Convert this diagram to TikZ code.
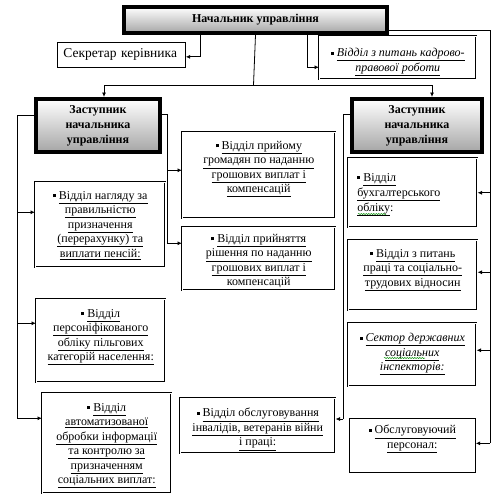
\documentclass[tikz,border=0pt]{standalone}
\usepackage{fontspec}
\setmainfont{Liberation Serif}
\usetikzlibrary{arrows.meta,decorations.pathmorphing}

\tikzset{
	unit/.style={draw, double, double distance=1.3pt, line width=0.5pt, inner sep=0pt, anchor=north west},
	plain/.style={draw, line width=0.7pt, inner sep=0pt, anchor=north west},
	head/.style={draw, line width=4pt, top color=white, bottom color=black!35, inner sep=0pt,
		anchor=north west, font=\fontsize{12}{15}\selectfont\bfseries},
	link/.style={line width=0.8pt},
	arr/.style={link, -{Latex[length=4.5pt,width=4pt]}},
	squiggle/.style={green!55!black, line width=0.5pt, decorate,
		decoration={snake, segment length=2.5pt, amplitude=0.6pt}},
}

\newcommand{\bul}{\raisebox{2pt}{\rule{3pt}{3pt}}\ }
\newcommand{\ul}[1]{\underline{#1}}
\newcommand{\cell}[4]{\parbox[c][#2][t]{#1}{\centering\vspace*{#3}#4}}

\begin{document}
\begin{tikzpicture}[x=1pt, y=-1pt, font=\fontsize{12}{14.5}\selectfont]

	\useasboundingbox (0,0) rectangle (503,501);

	% head of the office and the two deputies
	\node (chief) [head, minimum width=263pt, minimum height=26pt] at (122,5) {Начальник управління};
	\node (ldep) [head] at (34,97) {\cell{124pt}{53pt}{7pt}{Заступник\\начальника\\управління}};
	\node (rdep) [head] at (350,97) {\cell{130pt}{53pt}{7pt}{Заступник\\начальника\\управління}};

	\node (secr) [plain, text width=116pt, minimum height=25pt, inner xsep=6pt, align=left,
		font=\fontsize{13.5}{15}\selectfont] at (57,42) {Секретар керівника};
	\node (kadr) [unit] at (319,36) {\cell{157pt}{43pt}{12pt}{\itshape\bul\ul{Відділ з питань кадрово-}\\\ul{правової роботи}}};

	% left side
	\node (nahl) [unit] at (35,182) {\cell{130pt}{85pt}{9pt}{\bul\ul{Відділ нагляду за}\\\ul{правильністю}\\\ul{призначення}\\\ul{(перерахунку) та}\\\ul{виплати пенсій:}}};
	\node (pers) [unit] at (36,299) {\cell{129pt}{83pt}{10pt}{\bul\ul{Відділ}\\\ul{персоніфікованого}\\\ul{обліку пільгових}\\\ul{категорій населення:}}};
	\node (avto) [unit] at (42,393) {\cell{129pt}{100pt}{10pt}{\bul\ul{Відділ}\\\ul{автоматизованої}\\\ul{обробки інформації}\\\ul{та контролю за}\\\ul{призначенням}\\\ul{соціальних виплат:}}};

	% middle
	\node (prijom) [unit] at (182,132) {\cell{153pt}{86pt}{9pt}{\bul\ul{Відділ прийому}\\\ul{громадян по наданню}\\\ul{грошових виплат і}\\\ul{компенсацій}}};
	\node (prijn) [unit] at (182,227) {\cell{153pt}{63pt}{7pt}{\bul\ul{Відділ прийняття}\\\ul{рішення по наданню}\\\ul{грошових виплат і}\\\ul{компенсацій}}};
	\node (obsluh) [unit] at (180,398) {\cell{155pt}{55pt}{10pt}{\bul\ul{Відділ обслуговування}\\\ul{інвалідів, ветеранів війни}\\\ul{і праці:}}};

	% right side
	\node (buh) [unit] at (348,158) {\cell{129pt}{69pt}{15pt}{\raggedright\leftskip=9pt\baselineskip=15pt
		\bul\ul{Відділ}\\\ul{бухгалтерського}\\\ul{обліку}:}};
	\node (praci) [unit] at (348,240) {\cell{129pt}{70pt}{9pt}{\bul\ul{Відділ з питань}\\\ul{праці та соціально-}\\\ul{трудових відносин}}};
	\node (sektor) [unit] at (348,323) {\cell{128pt}{63pt}{10pt}{\itshape\bul\ul{Сектор державних}\\\ul{соціальних}\\\ul{інспекторів:}}};
	\node (obsl) [plain] at (349,418) {\cell{126pt}{54pt}{7pt}{\bul\ul{Обслуговуючий}\\\ul{персонал:}}};

	% spell-check marks
	\draw[squiggle] (358,214) -- (386,214);
	\draw[squiggle] (384,358) -- (425,358);

	% connectors from the head
	\coordinate (bus) at (253.5,85);
	\draw[link] (chief.south) -- (bus);
	\draw[arr] (bus) -| ([xshift=6pt]ldep.north);
	\draw[arr] (bus) -| ([xshift=15pt]rdep.north);
	\draw[arr] ([xshift=-55.5pt]chief.south) |- ([yshift=-2pt]secr.east);
	\draw[arr] ([xshift=51.5pt]chief.south) |- ([yshift=-9.5pt]kadr.west);

	\coordinate (rbus) at (490,443);
	\draw[link] ([yshift=-10pt]chief.east) -| (rbus);
	\foreach \n/\s in {buh/0, praci/3, sektor/4.5, obsl/2} {
		\coordinate (in) at ([yshift=\s pt]\n.east);
		\draw[arr] (rbus |- in) -- (in);
	}

	% connectors from the left deputy
	\coordinate (lbus) at (17,418);
	\draw[link] ([yshift=10.5pt]ldep.west) -| (lbus);
	\foreach \n/\s in {nahl/12.5, pers/17.5, avto/25} {
		\coordinate (in) at ([yshift=\s pt]\n.west);
		\draw[arr] (lbus |- in) -- (in);
	}

	\coordinate (mbus) at (167,243);
	\draw[link] ([yshift=11.5pt]ldep.east) -| (mbus);
	\foreach \n/\s in {prijom/5, prijn/15.5} {
		\coordinate (in) at ([yshift=\s pt]\n.west);
		\draw[arr] (mbus |- in) -- (in);
	}

	% connector from the right deputy
	\coordinate (obus) at (343,419);
	\draw[link] ([yshift=11.5pt]rdep.west) -| (obus);
	\draw[arr] (obus) -- (obus -| obsluh.east);

\end{tikzpicture}
\end{document}
